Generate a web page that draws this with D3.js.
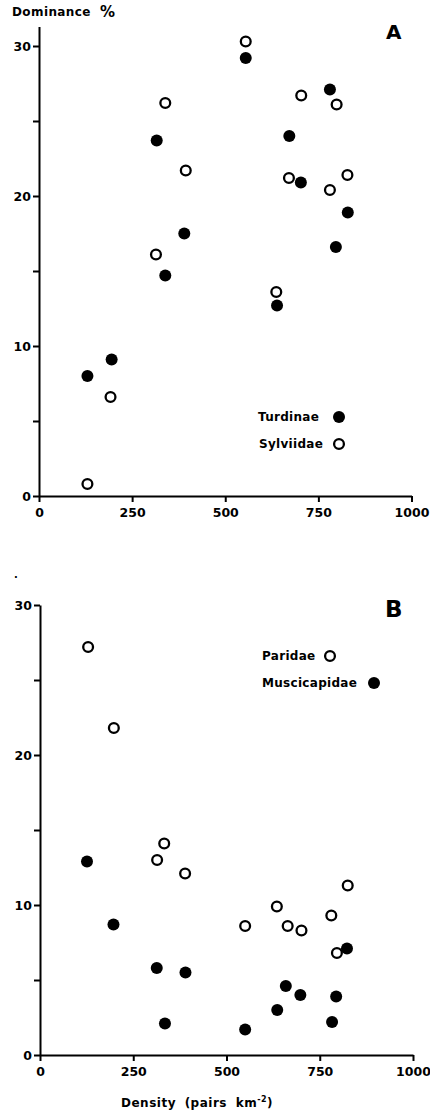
<!DOCTYPE html>
<html lang="en">
<head>
<meta charset="UTF-8">
<title>Dominance vs density</title>
<script src="https://cdnjs.cloudflare.com/ajax/libs/d3/7.8.5/d3.min.js"></script>
<style>
  body { margin: 0; background: #fff; }
  svg text { font-family: "DejaVu Sans", sans-serif; font-weight: bold; fill: #000; }
  .axis path, .axis line { stroke: #000; stroke-width: 2px; }
  .axis text { font-size: 12.5px; font-family: "DejaVu Sans", sans-serif; font-weight: bold; }
</style>
</head>
<body>
<script>
  // Panel A: Turdinae (filled) and Sylviidae (open)
  const turdinaeDensity = [130, 195, 316, 339, 390, 555, 639, 672, 703, 781, 797, 829];
  const turdinaeDominance = [8.0, 9.1, 23.7, 14.7, 17.5, 29.2, 12.7, 24.0, 20.9, 27.1, 16.6, 18.9];
  const sylviidaeDensity = [130, 192, 314, 339, 394, 555, 637, 671, 704, 781, 799, 828];
  const sylviidaeDominance = [0.8, 6.6, 16.1, 26.2, 21.7, 30.3, 13.6, 21.2, 26.7, 20.4, 26.1, 21.4];

  // Panel B: Paridae (open) and Muscicapidae (filled)
  const paridaeDensity = [129, 198, 314, 333, 389, 550, 635, 664, 701, 781, 796, 825];
  const paridaeDominance = [27.2, 21.8, 13.0, 14.1, 12.1, 8.6, 9.9, 8.6, 8.3, 9.3, 6.8, 11.3];
  const muscicapidaeDensity = [126, 197, 313, 335, 390, 550, 636, 659, 698, 783, 794, 823];
  const muscicapidaeDominance = [12.9, 8.7, 5.8, 2.1, 5.5, 1.7, 3.0, 4.6, 4.0, 2.2, 3.9, 7.1];

  const xTicks = [0, 250, 500, 750, 1000];
  const yTicks = [0, 5, 10, 15, 20, 25, 30];
  const yLabels = [0, 10, 20, 30];

  const svg = d3.select("body").append("svg")
    .attr("width", 430)
    .attr("height", 1113);

  const zip = (xs, ys) => xs.map((x, i) => ({ x: x, y: ys[i] }));

  function panel(opts) {
    const x = d3.scaleLinear().domain([0, 1000]).range(opts.xRange);
    const y = d3.scaleLinear().domain(opts.yDomain).range(opts.yRange);

    svg.append("g")
      .attr("class", "axis")
      .attr("transform", `translate(0,${y(0)})`)
      .call(d3.axisBottom(x).tickValues(xTicks).tickSize(6).tickSizeOuter(0).tickPadding(6))
      .call(g => g.selectAll("text").text(d => d));

    svg.append("g")
      .attr("class", "axis")
      .attr("transform", `translate(${x(0)},0)`)
      .call(d3.axisLeft(y).tickValues(yTicks).tickSize(6).tickSizeOuter(0).tickPadding(2)
        .tickFormat(d => yLabels.includes(d) ? d : ""));

    // filled series first, open ones drawn over with white fill
    svg.append("g").selectAll("circle")
      .data(opts.filled)
      .join("circle")
      .attr("cx", d => x(d.x))
      .attr("cy", d => y(d.y))
      .attr("r", 6)
      .attr("fill", "#000");

    svg.append("g").selectAll("circle")
      .data(opts.open)
      .join("circle")
      .attr("cx", d => x(d.x))
      .attr("cy", d => y(d.y))
      .attr("r", 4.9)
      .attr("fill", "#fff")
      .attr("stroke", "#000")
      .attr("stroke-width", 2.3);
  }

  panel({
    xRange: [39, 411.5],
    yDomain: [0, 31.3],
    yRange: [496, 26.5],
    filled: zip(turdinaeDensity, turdinaeDominance),
    open: zip(sylviidaeDensity, sylviidaeDominance)
  });

  panel({
    xRange: [40, 413],
    yDomain: [0, 30],
    yRange: [1055, 605],
    filled: zip(muscicapidaeDensity, muscicapidaeDominance),
    open: zip(paridaeDensity, paridaeDominance)
  });

  // titles and labels
  svg.append("text")
    .attr("x", 12).attr("y", 16)
    .style("font-size", "12px")
    .style("letter-spacing", "0.4px")
    .text("Dominance");
  svg.append("text")
    .attr("x", 100).attr("y", 17)
    .style("font-size", "15px")
    .text("%");

  svg.append("text")
    .attr("x", 386).attr("y", 39)
    .style("font-size", "20px")
    .text("A");
  svg.append("text")
    .attr("x", 385).attr("y", 617)
    .style("font-size", "23px")
    .text("B");

  svg.append("text")
    .attr("x", 14).attr("y", 578)
    .style("font-size", "10px")
    .text(".");

  const xLabel = svg.append("text")
    .attr("x", 121).attr("y", 1107)
    .style("font-size", "12px")
    .style("letter-spacing", "0.5px")
    .style("word-spacing", "4px");
  xLabel.append("tspan").text("Density (pairs km");
  xLabel.append("tspan").attr("dy", -5).style("font-size", "8px").text("-2");
  xLabel.append("tspan").attr("dy", 5).text(")");

  // legends
  function legendItem(label, tx, mx, cy, filled) {
    svg.append("text")
      .attr("x", tx).attr("y", cy)
      .attr("dominant-baseline", "central")
      .style("font-size", "12px")
      .style("letter-spacing", "0.3px")
      .text(label);
    svg.append("circle")
      .attr("cx", mx).attr("cy", cy)
      .attr("r", filled ? 6 : 4.9)
      .attr("fill", filled ? "#000" : "#fff")
      .attr("stroke", filled ? "none" : "#000")
      .attr("stroke-width", 2.3);
  }

  legendItem("Turdinae", 258, 339, 417, true);
  legendItem("Sylviidae", 259, 339, 444, false);
  legendItem("Paridae", 262, 330, 656, false);
  legendItem("Muscicapidae", 262, 374, 683, true);
</script>
</body>
</html>
